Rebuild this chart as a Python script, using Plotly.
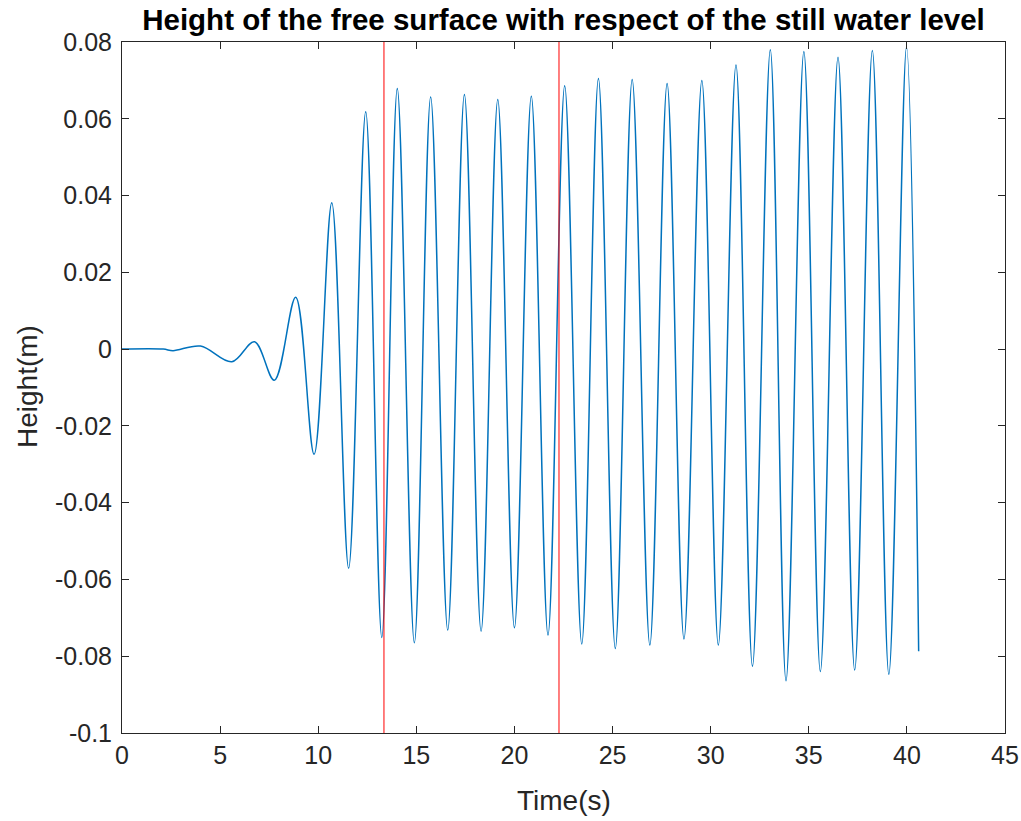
import plotly.graph_objects as go

# Free-surface elevation: crests and troughs of the recorded signal (s, m)
time_s = [0.0, 2.1, 2.6, 4.0, 5.6, 6.75, 7.76, 8.85, 9.79, 10.69, 11.55, 12.42,
          13.24, 14.03, 14.9, 15.73, 16.6, 17.45, 18.3, 19.15, 20.0, 20.86,
          21.71, 22.56, 23.43, 24.28, 25.14, 26.0, 26.9, 27.78, 28.64, 29.55,
          30.39, 31.29, 32.13, 33.04, 33.84, 34.75, 35.59, 36.49, 37.34, 38.24,
          39.08, 39.98, 40.6]
height_m = [0.0, 0.0, -0.0004, 0.0008, -0.0033, 0.0019, -0.0081, 0.0135,
            -0.0274, 0.0381, -0.0571, 0.0618, -0.0751, 0.0679, -0.0765, 0.0657,
            -0.0732, 0.0663, -0.0735, 0.065, -0.0726, 0.0659, -0.0745, 0.0686,
            -0.0768, 0.0705, -0.078, 0.0702, -0.0771, 0.0692, -0.0755, 0.07,
            -0.0771, 0.074, -0.0826, 0.078, -0.0864, 0.0775, -0.084, 0.076,
            -0.0836, 0.0778, -0.0847, 0.0787, -0.0787]

# Analysis window limits (s)
window_times = [13.35, 22.27]

x_ticks = [0, 5, 10, 15, 20, 25, 30, 35, 40, 45]
y_ticks = [-0.1, -0.08, -0.06, -0.04, -0.02, 0, 0.02, 0.04, 0.06, 0.08]
y_tick_text = ["-0.1", "-0.08", "-0.06", "-0.04", "-0.02", "0",
               "0.02", "0.04", "0.06", "0.08"]

Y_MIN, Y_MAX = -0.1, 0.08
AXIS_COLOR = "#262626"
FONT = "Liberation Sans, Arial, sans-serif"
W, H = 1021, 821

fig = go.Figure()
fig.add_trace(go.Scatter(
    x=time_s, y=height_m, mode="lines",
    line=dict(color="#0072BD", width=1.5, shape="spline", smoothing=1.0),
    showlegend=False, hoverinfo="skip",
))
for t in window_times:
    fig.add_trace(go.Scatter(
        x=[t, t], y=[Y_MIN, Y_MAX], mode="lines",
        line=dict(color="#FF0000", width=1),
        showlegend=False, hoverinfo="skip",
    ))

fig.update_layout(
    width=W, height=H,
    margin=dict(l=122, r=16, t=42, b=88, autoexpand=False),
    paper_bgcolor="white", plot_bgcolor="white",
    font=dict(family=FONT, color=AXIS_COLOR),
    title=dict(
        text="<b>Height of the free surface with respect of the still water level</b>",
        font=dict(family=FONT, size=29.5, color="black"),
        x=0.5, xanchor="center", xref="paper",
        y=1 - 20 / H, yanchor="middle", yref="container",
    ),
    annotations=[
        dict(text="Time(s)", xref="paper", yref="paper",
             x=0.5, y=-(801 - 733) / (733 - 42), xanchor="center", yanchor="middle",
             showarrow=False, font=dict(size=28, color=AXIS_COLOR)),
        dict(text="Height(m)", xref="paper", yref="paper",
             x=-(122 - 27) / (1005 - 122), y=(733 - 387) / (733 - 42),
             xanchor="center", yanchor="middle", textangle=-90,
             showarrow=False, font=dict(size=28, color=AXIS_COLOR)),
    ],
)
fig.update_xaxes(
    range=[0, 45], tickvals=x_ticks, ticktext=[str(v) for v in x_ticks],
    ticks="inside", ticklen=7, tickwidth=1, tickcolor=AXIS_COLOR,
    showline=True, linecolor=AXIS_COLOR, linewidth=1, mirror="ticks",
    showgrid=False, zeroline=False, automargin=False,
    tickfont=dict(size=25, color=AXIS_COLOR),
)
fig.update_yaxes(
    range=[Y_MIN, Y_MAX], tickvals=y_ticks, ticktext=y_tick_text,
    ticks="inside", ticklen=7, tickwidth=1, tickcolor=AXIS_COLOR,
    showline=True, linecolor=AXIS_COLOR, linewidth=1, mirror="ticks",
    showgrid=False, zeroline=False, automargin=False,
    ticklabelstandoff=4,
    tickfont=dict(size=25, color=AXIS_COLOR),
)

fig.write_html("out.html")
